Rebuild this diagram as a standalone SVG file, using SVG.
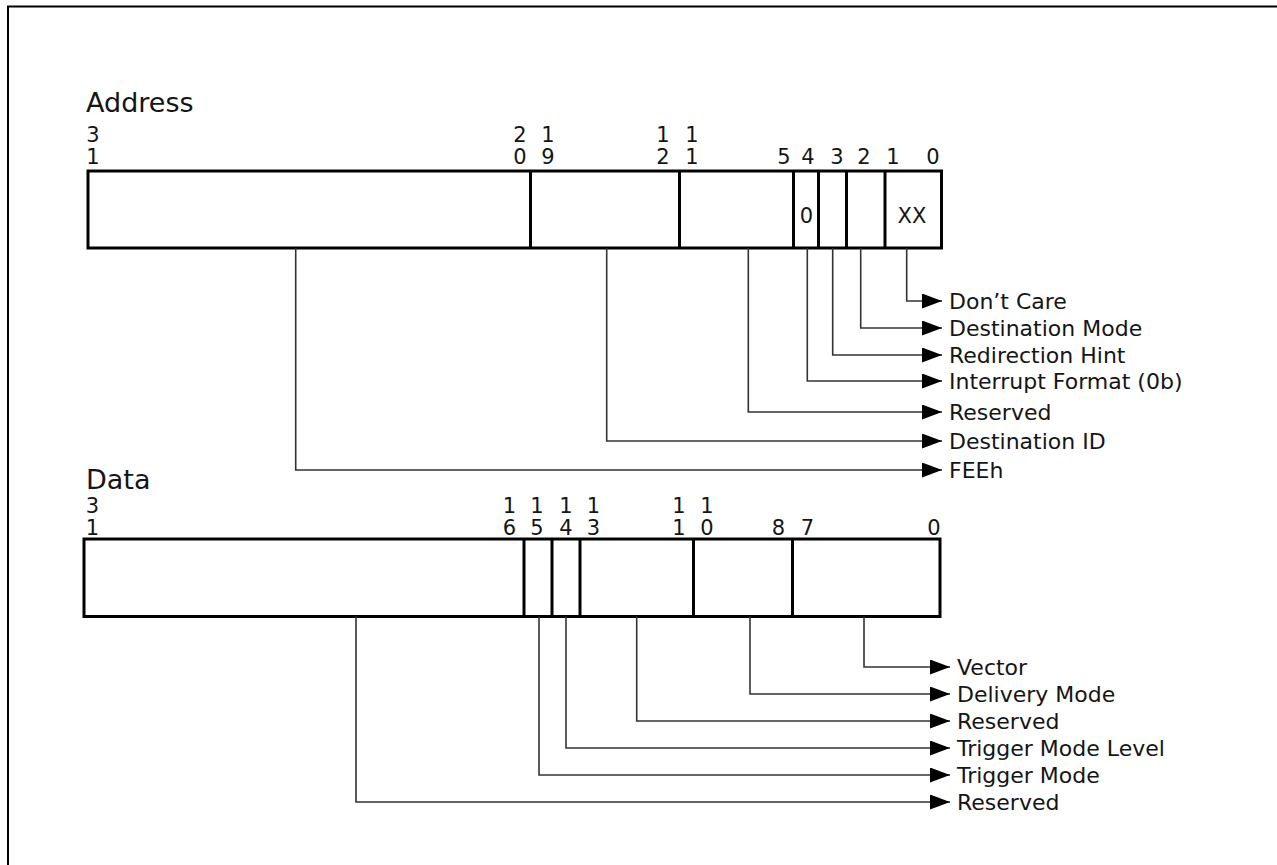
<svg xmlns="http://www.w3.org/2000/svg" width="1277" height="865" viewBox="0 0 1277 865">
<style>
text{font-family:"DejaVu Sans","Liberation Sans",sans-serif;fill:#151515}
.title{font-size:27px}
.bit{font-size:21px;text-anchor:middle}
.val{font-size:21px;text-anchor:middle}
.lbl{font-size:22px}
.box{fill:#fff;stroke:#000;stroke-width:3}
.div{stroke:#000;stroke-width:3}
.con{fill:none;stroke:#333;stroke-width:1.6}
</style>
<defs>
<marker id="arr" markerUnits="userSpaceOnUse" markerWidth="20" markerHeight="16" refX="20" refY="7.5" orient="auto">
<path d="M0,0 L20,7.5 L0,15 z" fill="#000"/>
</marker>
</defs>
<rect width="1277" height="865" fill="#fff"/>
<path d="M8,865 V6.5 H1277" fill="none" stroke="#000" stroke-width="2"/>

<g id="address">
<text class="title" x="86" y="112">Address</text>
<rect class="box" x="88" y="171" width="853.5" height="77"/>
<line class="div" x1="530.5" y1="171" x2="530.5" y2="248"/>
<line class="div" x1="679.5" y1="171" x2="679.5" y2="248"/>
<line class="div" x1="793.5" y1="171" x2="793.5" y2="248"/>
<line class="div" x1="818.5" y1="171" x2="818.5" y2="248"/>
<line class="div" x1="846.5" y1="171" x2="846.5" y2="248"/>
<line class="div" x1="885" y1="171" x2="885" y2="248"/>
<g class="bits">
<text class="bit" x="93" y="142">3</text><text class="bit" x="93" y="164">1</text>
<text class="bit" x="520" y="142">2</text><text class="bit" x="520" y="164">0</text>
<text class="bit" x="548" y="142">1</text><text class="bit" x="548" y="164">9</text>
<text class="bit" x="663" y="142">1</text><text class="bit" x="663" y="164">2</text>
<text class="bit" x="692" y="142">1</text><text class="bit" x="692" y="164">1</text>
<text class="bit" x="784" y="164">5</text>
<text class="bit" x="808" y="164">4</text>
<text class="bit" x="837" y="164">3</text>
<text class="bit" x="864" y="164">2</text>
<text class="bit" x="893" y="164">1</text>
<text class="bit" x="933" y="164">0</text>
</g>
<text class="val" x="806.5" y="223">0</text>
<text class="val" x="912" y="223">XX</text>
</g>

<g id="data">
<text class="title" x="86" y="489">Data</text>
<rect class="box" x="84" y="539" width="856" height="77.5"/>
<line class="div" x1="524" y1="539" x2="524" y2="616.5"/>
<line class="div" x1="552" y1="539" x2="552" y2="616.5"/>
<line class="div" x1="580" y1="539" x2="580" y2="616.5"/>
<line class="div" x1="693.5" y1="539" x2="693.5" y2="616.5"/>
<line class="div" x1="792.5" y1="539" x2="792.5" y2="616.5"/>
<g class="bits">
<text class="bit" x="92.5" y="513">3</text><text class="bit" x="92.5" y="535">1</text>
<text class="bit" x="509.5" y="513">1</text><text class="bit" x="509.5" y="535">6</text>
<text class="bit" x="537" y="513">1</text><text class="bit" x="537" y="535">5</text>
<text class="bit" x="566" y="513">1</text><text class="bit" x="566" y="535">4</text>
<text class="bit" x="593.5" y="513">1</text><text class="bit" x="593.5" y="535">3</text>
<text class="bit" x="679" y="513">1</text><text class="bit" x="679" y="535">1</text>
<text class="bit" x="707" y="513">1</text><text class="bit" x="707" y="535">0</text>
<text class="bit" x="778.5" y="535">8</text>
<text class="bit" x="807.5" y="535">7</text>
<text class="bit" x="934" y="535">0</text>
</g>
</g>

<g id="connectors">
<path class="con" marker-end="url(#arr)" d="M906.7,248 V301 H942"/>
<path class="con" marker-end="url(#arr)" d="M860.7,248 V328 H942"/>
<path class="con" marker-end="url(#arr)" d="M832.7,248 V355 H942"/>
<path class="con" marker-end="url(#arr)" d="M807.3,248 V381 H942"/>
<path class="con" marker-end="url(#arr)" d="M748.3,248 V412 H942"/>
<path class="con" marker-end="url(#arr)" d="M606.7,248 V441 H942"/>
<path class="con" marker-end="url(#arr)" d="M295.7,248 V470 H942"/>
<path class="con" marker-end="url(#arr)" d="M864,616.5 V667 H950"/>
<path class="con" marker-end="url(#arr)" d="M750,616.5 V694 H950"/>
<path class="con" marker-end="url(#arr)" d="M636.7,616.5 V721 H950"/>
<path class="con" marker-end="url(#arr)" d="M566,616.5 V748 H950"/>
<path class="con" marker-end="url(#arr)" d="M539,616.5 V775 H950"/>
<path class="con" marker-end="url(#arr)" d="M356,616.5 V802 H950"/>
</g>

<g id="labels">
<text class="lbl" x="949" y="309">Don’t Care</text>
<text class="lbl" x="949" y="336">Destination Mode</text>
<text class="lbl" x="949" y="363">Redirection Hint</text>
<text class="lbl" x="949" y="389">Interrupt Format (0b)</text>
<text class="lbl" x="949" y="420">Reserved</text>
<text class="lbl" x="949" y="449">Destination ID</text>
<text class="lbl" x="949" y="478">FEEh</text>
<text class="lbl" x="957" y="675">Vector</text>
<text class="lbl" x="957" y="702">Delivery Mode</text>
<text class="lbl" x="957" y="729">Reserved</text>
<text class="lbl" x="957" y="756">Trigger Mode Level</text>
<text class="lbl" x="957" y="783">Trigger Mode</text>
<text class="lbl" x="957" y="810">Reserved</text>
</g>
</svg>
